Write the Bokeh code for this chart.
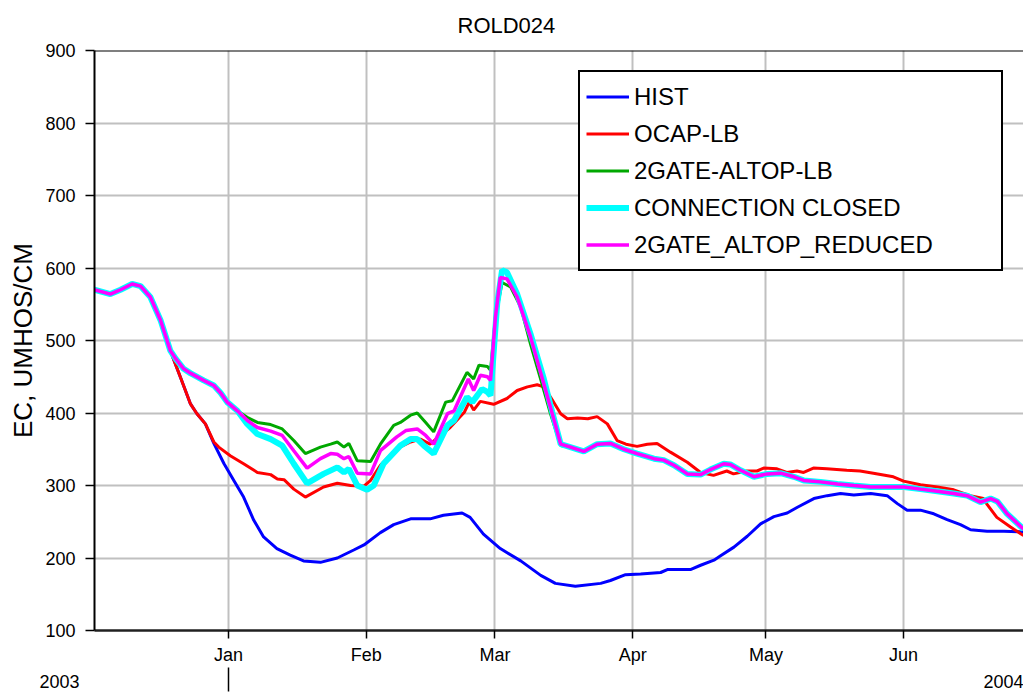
from bokeh.plotting import figure
from bokeh.models import (Range1d, FixedTicker, LinearAxis, Legend,
                          LegendItem, Span, Title)
from bokeh.embed import file_html
from bokeh.resources import INLINE

FONT = "Liberation Sans"
NBSP = "\u00a0"

# x values are days counted from 2003-12-01
X_START, X_END = 0.83, 210.0
MONTH_DAYS = [31, 62, 91, 122, 152, 183]
MONTH_LABELS = ["Jan", "Feb", "Mar", "Apr", "May", "Jun"]
YEAR_LABELS = ["2003", "2004"]
Y_TICKS = [100, 200, 300, 400, 500, 600, 700, 800, 900]

# part shared by all five series
START_DAY = [0.8, 4.4, 6.7, 9.3, 11.2, 13.4, 15.7, 17.9]
START_EC = [570, 564, 570, 578, 575, 560, 528, 486]

# part shared by the three gate scenarios before they split
SCEN_DAY = [19.1, 20.9, 22.4, 25.4, 27.7, 29.2, 30.7, 33.0]
SCEN_EC = [475, 461, 455, 445, 438, 428, 415, 403]

# common tail of the three gate scenarios
TAIL_DAY = [108.5, 111, 114, 117, 120, 123, 126.8, 129, 131.3, 134.3, 137.3,
            139.5, 142.5, 144, 146.3, 149.3, 152.3, 155.3, 158.3, 160.5,
            164.3, 168.1, 171.8, 175.6, 179.3, 183.1, 186.8, 190.6, 194.3,
            197.3, 200.3, 202.6, 204.1, 206.3, 210]
TAIL_EC = [352, 347, 357, 358, 350, 344, 337, 335, 328, 316, 315, 322, 330,
           329, 321, 312, 316, 317, 312, 307, 305, 302, 300, 298, 298, 298,
           295, 292, 289, 286, 277, 282, 278, 261, 240]

HIST_DAY = [20.2, 22.4, 23.9, 25.8, 27.7, 30, 32.2, 34.4, 36.7, 38.9, 41.9,
            44.9, 47.9, 51.7, 55.5, 59.2, 61.5, 65.2, 68.2, 72, 76.4, 79.4,
            83.6, 85.4, 88.4, 92.2, 96.8, 101.3, 104.6, 109.1, 114.8, 117,
            120.4, 123.8, 128.3, 129.8, 135, 137.3, 140.3, 141.8, 144.8,
            147.8, 150.8, 153.8, 156.8, 159.1, 162.8, 165.8, 168.8, 171.8,
            175.6, 179.3, 181.6, 183.8, 186.8, 189.8, 192.8, 195.8, 198.1,
            201.8, 205.6, 210]
HIST_EC = [449, 413, 399, 385, 358, 330, 307, 284, 252, 229, 213, 204, 196,
           194, 200, 211, 218, 235, 246, 254, 254, 259, 262, 256, 233, 213,
           196, 176, 165, 161, 165, 169, 177, 178, 180, 184, 184, 190, 197,
           203, 215, 230, 247, 257, 262, 270, 282, 286, 289, 287, 289, 286,
           275, 266, 266, 261, 253, 246, 239, 237, 237, 236]

OCAP_DAY = [20.2, 22.4, 23.9, 25.8, 27.7, 28.8, 31.4, 34.4, 37.5, 40.5, 42,
            43.5, 45.7, 48.3, 52.4, 55.5, 58.5, 61.5, 63, 65.2, 68.9, 72,
            74.2, 76.4, 78.7, 80.9, 84.1, 85.2, 86.2, 87.7, 90.7, 93.7, 96,
            98.3, 100.5, 102, 103.5, 105.8, 107.3, 109.6, 111.9, 114, 116.3,
            118.5, 120.5, 123, 125.3, 127.5, 130.5, 134.3, 137.3, 140.2,
            143.2, 144.7, 147.7, 150, 151.5, 154.5, 156.7, 159, 160.5, 162.7,
            165.7, 170.2, 173.2, 176.2, 180.7, 183, 186.8, 190.6, 194.3, 198,
            201, 201.8, 204, 207, 210]
OCAP_EC = [449, 413, 399, 385, 360, 353, 341, 330, 318, 315, 309, 308, 295,
           284, 298, 303, 300, 299, 307, 328, 351, 360, 364, 357, 369, 380,
           401, 415, 404, 416, 412, 420, 431, 436, 439, 436, 422, 399, 392,
           393, 392, 395, 385, 362, 357, 354, 357, 358, 346, 332, 318, 314,
           320, 316, 320, 320, 324, 323, 318, 320, 318, 324, 323, 321, 320,
           317, 312, 306, 301, 298, 294, 286, 282, 274, 256, 243, 231]

ALTOP_DAY = [35.2, 37.5, 40.5, 43.1, 45.7, 48.3, 51.7, 54, 55.5, 57, 58.1, 60,
             63, 65.2, 68.2, 69.7, 72, 73.5, 75.4, 77.2, 79.9, 81.4, 84.7,
             86.2, 87.4, 89.3, 90, 91.1, 92.6, 94.5, 96.8, 99, 101.6, 103.5,
             105.8]
ALTOP_EC = [394, 387, 384, 378, 362, 344, 353, 357, 360, 353, 358, 334, 333,
            357, 383, 387, 397, 400, 387, 374, 415, 417, 456, 447, 466, 464,
            459, 532, 580, 574, 546, 495, 440, 399, 355]

CLOSED_DAY = [35.2, 37.5, 40.5, 43.1, 45.7, 48.7, 52.4, 55.5, 57, 58.1, 60,
              62.2, 63.7, 65.9, 69.7, 72, 73.5, 75, 77.2, 80.3, 81.8, 84.7,
              85.9, 88.1, 89.3, 90, 91.5, 92.6, 93.7, 96, 99, 102, 103.9,
              105.8]
CLOSED_EC = [385, 371, 364, 355, 330, 303, 316, 325, 318, 323, 300, 294, 300,
             330, 355, 364, 364, 355, 344, 383, 390, 422, 415, 433, 429, 424,
             551, 597, 594, 564, 509, 447, 401, 357]

REDUCED_DAY = [35.2, 37.5, 40.5, 43.1, 45.7, 48.7, 51.7, 54, 55.5, 57, 58.1,
               60, 63, 65.2, 68.9, 71, 73.5, 75.4, 77.2, 80.3, 81.8, 85, 86.2,
               87.7, 89.3, 90, 91.1, 92.2, 93.7, 96, 99, 102, 103.9, 105.8]
REDUCED_EC = [390, 380, 375, 369, 348, 324, 337, 344, 343, 337, 340, 317, 316,
              348, 367, 376, 378, 369, 357, 399, 403, 447, 431, 452, 450, 445,
              532, 587, 585, 560, 505, 440, 399, 357]

SERIES = [
    ("HIST", "#0000ff", 3, START_DAY + HIST_DAY, START_EC + HIST_EC),
    ("OCAP-LB", "#ff0000", 3, START_DAY + OCAP_DAY, START_EC + OCAP_EC),
    ("2GATE-ALTOP-LB", "#00a800", 3,
     START_DAY + SCEN_DAY + ALTOP_DAY + TAIL_DAY,
     START_EC + SCEN_EC + ALTOP_EC + TAIL_EC),
    ("CONNECTION CLOSED", "#00ffff", 6,
     START_DAY + SCEN_DAY + CLOSED_DAY + TAIL_DAY,
     START_EC + SCEN_EC + CLOSED_EC + TAIL_EC),
    ("2GATE_ALTOP_REDUCED", "#ff00ff", 3.5,
     START_DAY + SCEN_DAY + REDUCED_DAY + TAIL_DAY,
     START_EC + SCEN_EC + REDUCED_EC + TAIL_EC),
]

FRAME_W = 929
p = figure(width=1023, height=696, x_range=Range1d(X_START, X_END),
           y_range=Range1d(100, 900), output_backend="svg",
           toolbar_location=None, min_border_left=94, min_border_right=0,
           min_border_top=50, min_border_bottom=66)
p.title = Title(text="ROLD024", align="left", offset=363, text_font=FONT,
                text_font_size="22px", text_font_style="normal",
                text_color="black", vertical_align="top", standoff=22)
p.outline_line_color = None
p.background_fill_color = "white"
p.border_fill_color = "white"

# x axis (months)
xa = p.xaxis[0]
xa.ticker = FixedTicker(ticks=MONTH_DAYS)
xa.major_label_overrides = dict(zip(MONTH_DAYS, MONTH_LABELS))
xa.major_label_text_font = FONT
xa.major_label_text_font_size = "18px"
xa.major_label_text_color = "black"
xa.major_label_standoff = 6
xa.major_tick_in = 0
xa.major_tick_out = 8
xa.minor_tick_line_color = None
xa.axis_line_color = "#202020"
xa.axis_line_width = 2.5
xa.major_tick_line_color = "black"
xa.major_tick_line_width = 1.5

# second row: year labels and the year divider tick at Jan 1
year_end_tick = X_END - 20 * (X_END - X_START) / FRAME_W
year_ticks = [X_START, year_end_tick]
year_text = [YEAR_LABELS[0] + NBSP * 14, YEAR_LABELS[1]]
ax2 = LinearAxis(ticker=FixedTicker(ticks=year_ticks,
                                    minor_ticks=[MONTH_DAYS[0]]),
                 major_label_overrides=dict(zip(year_ticks, year_text)),
                 axis_line_color=None, major_tick_in=0, major_tick_out=0,
                 major_tick_line_color=None,
                 minor_tick_in=0, minor_tick_out=24,
                 minor_tick_line_color="black", minor_tick_line_width=1.5,
                 major_label_standoff=-20, major_label_text_font=FONT,
                 major_label_text_font_size="18px",
                 major_label_text_color="black")
p.add_layout(ax2, "below")

# y axis
ya = p.yaxis[0]
ya.ticker = FixedTicker(ticks=Y_TICKS)
ya.major_label_text_font = FONT
ya.major_label_text_font_size = "18px"
ya.major_label_text_color = "black"
ya.major_label_standoff = 10
ya.major_tick_in = 0
ya.major_tick_out = 9
ya.minor_tick_line_color = None
ya.axis_line_color = "black"
ya.axis_line_width = 2
ya.major_tick_line_color = "black"
ya.major_tick_line_width = 1.5
ya.axis_label = "EC, UMHOS/CM"
ya.axis_label_text_font = FONT
ya.axis_label_text_font_size = "26px"
ya.axis_label_text_font_style = "normal"
ya.axis_label_text_color = "black"
ya.axis_label_standoff = 4

p.xgrid.ticker = FixedTicker(ticks=MONTH_DAYS)
p.ygrid.ticker = FixedTicker(ticks=Y_TICKS)
for g in (p.xgrid[0], p.ygrid[0]):
    g.grid_line_color = "#c0c0c0"
    g.grid_line_width = 2

p.add_layout(Span(location=Y_TICKS[-1], dimension="width",
                  line_color="black", line_width=2))

items = []
for name, color, lw, xs, ys in SERIES:
    r = p.line(xs, ys, line_color=color, line_width=lw)
    items.append(LegendItem(label=name, renderers=[r]))

legend = Legend(items=items, location="top_right", margin=20, padding=6,
                spacing=0, glyph_width=43, glyph_height=37, label_height=37,
                label_width=361, label_standoff=5, label_text_font=FONT,
                label_text_font_size="24px", label_text_color="black",
                border_line_color="black", border_line_width=2,
                border_line_alpha=1, background_fill_color="white",
                background_fill_alpha=1)
p.add_layout(legend)

open("out.html", "w").write(file_html(p, INLINE))
